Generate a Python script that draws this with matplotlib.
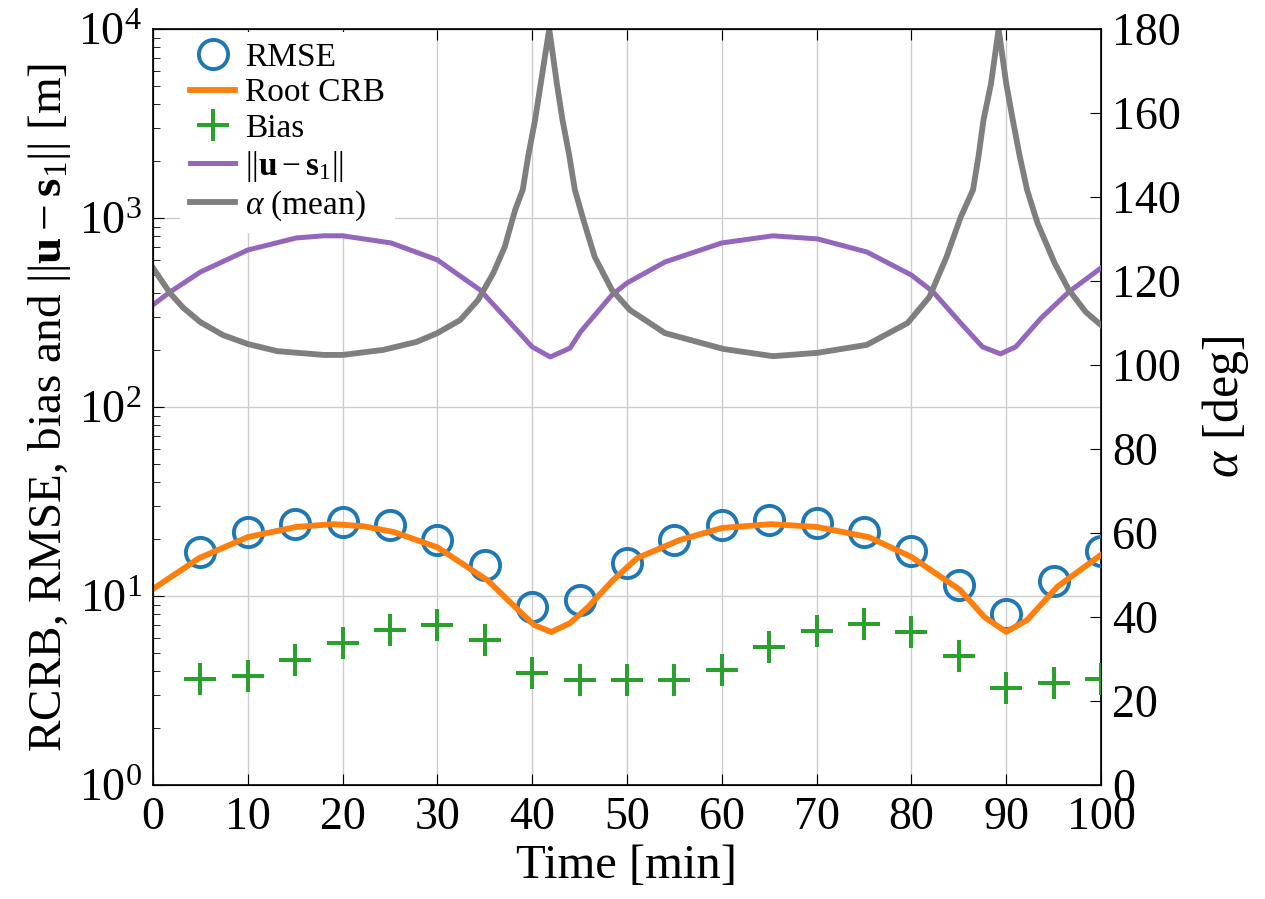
import numpy as np
import matplotlib
matplotlib.use('Agg')
import matplotlib.pyplot as plt

plt.rcParams['font.family'] = ['Liberation Serif', 'DejaVu Serif']
plt.rcParams['mathtext.fontset'] = 'custom'
plt.rcParams['mathtext.rm'] = 'Liberation Serif'
plt.rcParams['mathtext.it'] = 'Liberation Serif:italic'
plt.rcParams['mathtext.bf'] = 'Liberation Serif:bold'

# sample times of the Monte Carlo runs
t_pts = [5, 10, 15, 20, 25, 30, 35, 40, 45, 50, 55, 60, 65, 70, 75, 80, 85, 90, 95, 100]
rmse = [17.1, 21.8, 24.0, 24.6, 23.7, 19.8, 14.6, 8.7, 9.5, 15.0,
        19.8, 23.8, 25.2, 24.3, 21.8, 17.3, 11.4, 8.0, 12.0, 17.3]
bias = [3.64, 3.77, 4.59, 5.64, 6.61, 7.02, 5.85, 3.91, 3.59, 3.59,
        3.59, 4.06, 5.37, 6.53, 7.11, 6.45, 4.82, 3.26, 3.46, 3.64]

# root CRB curve
t_crb = [0, 4.9, 10, 15.1, 19, 22.2, 25.4, 30, 35.3, 38.2, 40.2, 42, 44, 45.9, 48.5,
         51.1, 55.6, 60, 65.2, 70, 75.5, 80, 85.1, 87.7, 90, 92.2, 95.4, 100]
crb = [10.9, 15.9, 20.5, 23.2, 24.0, 23.4, 21.8, 18.1, 12.1, 8.74, 7.02, 6.45, 7.19, 8.74, 12.1,
       15.9, 19.8, 22.9, 24.0, 23.2, 20.5, 16.1, 10.8, 7.74, 6.45, 7.46, 11.2, 16.5]

# distance ||u - s1||
t_dist = [0, 1.8, 5, 10, 15.1, 18, 20, 25.1, 30, 34.5, 37.7, 40, 41.9, 44, 45.1, 48.4,
          50, 54, 60, 65.4, 70.1, 75.3, 80, 82.3, 85.2, 87.5, 89.4, 91, 93.7, 96.6, 100]
dist = [347, 406, 518, 677, 784, 805, 805, 738, 600, 416, 278, 208, 184, 205, 250, 391,
        453, 585, 738, 805, 775, 661, 499, 406, 278, 208, 191, 208, 296, 406, 544]

# mean angle alpha [deg]
t_alpha = [0, 1.8, 3.2, 5, 7.4, 10, 13.1, 18, 20, 24.3, 27.8, 30, 32.4, 34.3, 35.9, 37.1,
           38.2, 39.0, 39.6, 40.3, 40.9, 41.8, 42.6, 43.2, 43.9, 44.5, 45.5, 46.6, 48.4, 50.3,
           54, 60.2, 65.4, 70.1, 75.3, 79.6, 81.9, 83.7, 85.2, 86.5, 87.1, 87.6, 88.4, 89.2,
           90.0, 90.7, 91.4, 92.2, 93.3, 95.1, 96.6, 98.4, 100]
alpha = [123.1, 117.1, 113.6, 110.2, 107.1, 105, 103.3, 102.4, 102.4, 103.6, 105.5, 107.6, 110.7, 115.5, 121.9, 128.1,
         136.9, 141.7, 150, 158.3, 167, 180, 167, 158.3, 150, 141.7, 133.8, 125.7, 117.9, 113.1,
         107.6, 103.8, 102.1, 102.9, 104.8, 110, 116.2, 125.7, 135.2, 141.7, 150, 158.3, 167, 180,
         167, 158.3, 150, 141.7, 133.8, 124.3, 117.9, 112.6, 109.5]

fig = plt.figure(figsize=(12.65, 8.99), dpi=100)
ax = fig.add_axes([153 / 1265, 114 / 899, 948 / 1265, 756 / 899])
ax2 = ax.twinx()

l_rmse, = ax.plot(t_pts, rmse, 'o', ms=21, mfc='none', mec='#1f77b4', mew=2.8, zorder=3)
l_crb, = ax.plot(t_crb, crb, '-', color='#ff7f0e', lw=4.2, zorder=4)
l_bias, = ax.plot(t_pts, bias, '+', ms=23, mec='#2ca02c', mew=2.9, zorder=3)
l_dist, = ax.plot(t_dist, dist, '-', color='#9467bd', lw=3.6, zorder=3)
l_alpha, = ax2.plot(t_alpha, alpha, '-', color='#7f7f7f', lw=4.2)

ax.set_yscale('log')
ax.set_ylim(1, 1e4)
ax.set_xlim(0, 100)
ax.set_xticks(range(0, 101, 10))
ax2.set_ylim(0, 180)
ax2.set_yticks(range(0, 181, 20))

ax.grid(True, which='major', color='#cccccc', lw=1.0)
ax.set_axisbelow(True)

ax.tick_params(which='both', direction='in', top=True, labelsize=33, pad=8)
ax.tick_params(which='major', length=8)
ax.tick_params(which='minor', length=5)
ax.tick_params(axis='y', which='both', right=False)
ax2.tick_params(direction='in', length=8, labelsize=33, pad=8)

ax.set_xlabel('Time [min]', fontsize=35, labelpad=4)
ax.set_ylabel(r'RCRB, RMSE, bias and $||\mathbf{u} - \mathbf{s}_1||$ [m]', fontsize=34, labelpad=4)
ax2.set_ylabel(r'$\alpha$ [deg]', fontsize=36, labelpad=14)

leg = ax2.legend([l_rmse, l_crb, l_bias, l_dist, l_alpha],
                 ['RMSE', 'Root CRB', 'Bias', r'$||\mathbf{u} - \mathbf{s}_1||$', r'$\alpha$ (mean)'],
                 loc='upper left', bbox_to_anchor=(0.025, 1.0), fontsize=24, frameon=True,
                 fancybox=False, framealpha=1, edgecolor='none', borderaxespad=0.1,
                 borderpad=0.3, labelspacing=0.15, handlelength=1.35, handletextpad=0.3)

for s in ax.spines.values():
    s.set_linewidth(1.2)

plt.savefig('out.png', dpi=100)
